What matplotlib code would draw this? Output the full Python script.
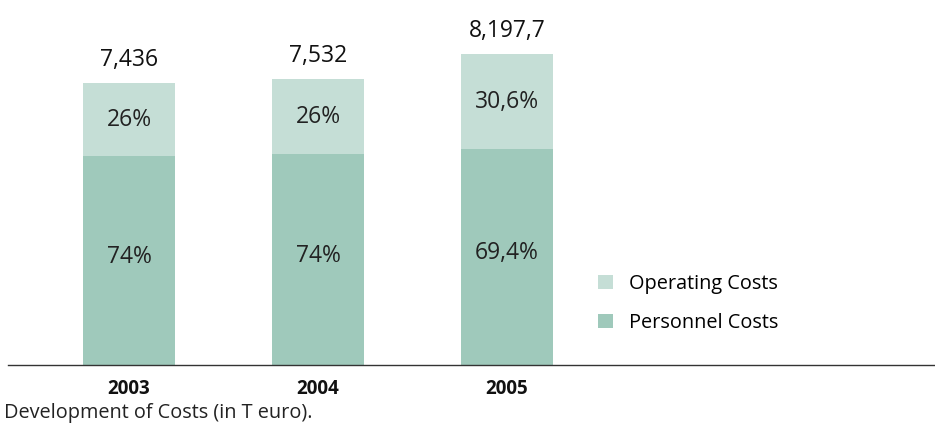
# Development of costs, stacked bars (personnel / operating)

import matplotlib.pyplot as plt

years = ["2003", "2004", "2005"]
totals = [7436, 7532, 8197.7]
total_labels = ["7,436", "7,532", "8,197,7"]
personnel_pct = [74, 74, 69.4]
operating_pct = [26, 26, 30.6]
personnel_labels = ["74%", "74%", "69,4%"]
operating_labels = ["26%", "26%", "30,6%"]

light = "#c5ded6"
dark = "#9fc9bb"

plt.rcParams["font.family"] = ["Open Sans", "DejaVu Sans"]

fig = plt.figure(figsize=(9.35, 4.3), dpi=100)
ax = fig.add_axes([8 / 935, 65 / 430, 927 / 935, 365 / 430])

x = list(range(len(years)))
personnel = [t * p / 100 for t, p in zip(totals, personnel_pct)]
operating = [t * p / 100 for t, p in zip(totals, operating_pct)]

b1 = ax.bar(x, personnel, width=0.487, color=dark, label="Personnel Costs")
b2 = ax.bar(x, operating, width=0.487, bottom=personnel, color=light, label="Operating Costs")

for i in x:
    ax.text(i, personnel[i] / 2 + 100, personnel_labels[i], ha="center", va="center",
            fontsize=16.5, color="#222222")
    ax.text(i, personnel[i] + operating[i] / 2, operating_labels[i], ha="center", va="center",
            fontsize=16.5, color="#222222")
    ax.annotate(total_labels[i], (i, totals[i]), xytext=(0, 8), textcoords="offset points",
                ha="center", va="bottom", fontsize=16.5, color="#111111")

ax.set_xlim(-0.640, 4.265)
ax.set_ylim(0, 9625)
for s in ["top", "right", "left"]:
    ax.spines[s].set_visible(False)
ax.spines["bottom"].set_color("#333333")
ax.spines["bottom"].set_linewidth(1)
ax.set_yticks([])
ax.set_xticks(x)
ax.set_xticklabels(years, fontsize=13.5, fontweight="bold", color="#111111")
ax.tick_params(axis="x", length=0, pad=10)

fig.legend(handles=[b2, b1], loc="upper left", bbox_to_anchor=(580 / 935, 1 - 256 / 430),
           frameon=False, fontsize=14.3, handlelength=0.75, handleheight=0.75,
           handletextpad=0.8, labelspacing=0.95)

fig.text(4 / 935, 1 - 413 / 430, "Development of Costs (in T euro).", fontsize=14.3,
         va="center", ha="left", color="#222222")

fig.savefig("out.png", dpi=100)
